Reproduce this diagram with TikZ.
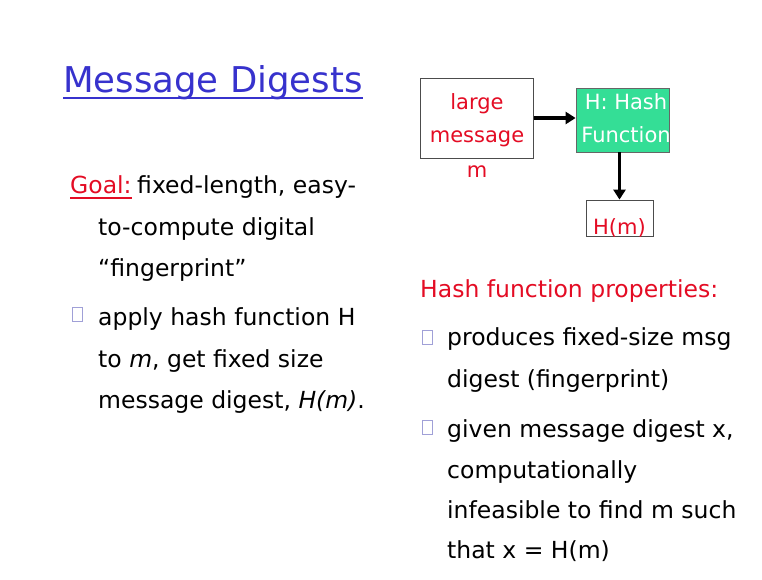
\documentclass[tikz,border=0pt]{standalone}
\usepackage{fontspec}
\setmainfont{DejaVu Sans}
\usetikzlibrary{arrows.meta}
\definecolor{titleblue}{RGB}{55,50,205}
\definecolor{slidered}{RGB}{228,12,36}
\definecolor{hashgreen}{RGB}{52,222,150}
\definecolor{bulletgray}{RGB}{160,160,215}

\begin{document}
\begin{tikzpicture}[x=1pt,y=-1pt,
    body/.style={anchor=base west,inner sep=0pt,font=\fontsize{23.5}{28}\selectfont},
    redbody/.style={body,text=slidered},
    bulletbox/.style={draw=bulletgray,line width=0.8pt,minimum width=10pt,minimum height=14pt,inner sep=0pt},
    plainbox/.style={draw=black!70,line width=0.8pt,inner sep=0pt},
    boxtext/.style={inner sep=0pt,anchor=base,font=\fontsize{21}{25}\selectfont},
    flow/.style={-{Triangle[length=10pt,width=12pt]},line width=3.5pt}]
    \useasboundingbox (0,0) rectangle (762,579);
    \fill[white] (0,0) rectangle (762,579);
    % title
    \node[anchor=base west,inner sep=0pt,text=titleblue,font=\fontsize{35.5}{42}\selectfont] (title) at (63,92) {Message Digests};
    \draw[titleblue,line width=2pt] (title.base west) ++(0,6) coordinate (ulA) -- (ulA -| title.base east);
    % left column
    \node[redbody] (goal) at (70,193) {Goal:};
    \draw[slidered,line width=1.5pt] (goal.base west) ++(0,5) coordinate (ulB) -- (ulB -| goal.base east);
    \node[body] (goalA) at (137,193) {fixed-length, easy-};
    \node[body] (goalB) at (98,235) {to-compute digital};
    \node[body] (goalC) at (98,276) {``fingerprint''};
    \node[bulletbox] (bulA) at (77,314) {};
    \node[body] (applyA) at (98,325) {apply hash function H};
    \node[body] (applyB) at (98,367) {to \textit{m}, get fixed size};
    \node[body] (applyC) at (98,408) {message digest, \textit{H(m)}.};
    % diagram
    \node[plainbox,minimum width=113pt,minimum height=80pt] (msg) at (477,118) {};
    \node[boxtext,text=slidered] (msgA) at (477,109) {large};
    \node[boxtext,text=slidered] (msgB) at (477,142) {message};
    \node[boxtext,text=slidered] (msgC) at (477,177) {m};
    \node[draw=black!60,fill=hashgreen,line width=0.8pt,minimum width=93pt,minimum height=64pt,inner sep=0pt] (hash) at (622.5,120) {};
    \node[boxtext,text=white] (hashA) at (626,109) {H: Hash};
    \node[boxtext,text=white] (hashB) at (626,142) {Function};
    \node[plainbox,minimum width=67pt,minimum height=36pt] (digest) at (619.5,218) {};
    \node[boxtext,text=slidered] (digestA) at (619.5,234) {H(m)};
    \draw[flow] (msg.east) -- (msg.east -| hash.west);
    \draw[flow] (hash.south -| digest.north) -- (digest.north);
    % right column
    \node[redbody] (props) at (420,297) {Hash function properties:};
    \node[bulletbox] (bulB) at (427,337) {};
    \node[body] (propA) at (447,345) {produces fixed-size msg};
    \node[body] (propB) at (447,387) {digest (fingerprint)};
    \node[bulletbox] (bulC) at (427,427) {};
    \node[body] (propC) at (447,437) {given message digest x,};
    \node[body] (propD) at (447,478) {computationally};
    \node[body] (propE) at (447,518) {infeasible to find m such};
    \node[body] (propF) at (447,558) {that x = H(m)};
\end{tikzpicture}
\end{document}
